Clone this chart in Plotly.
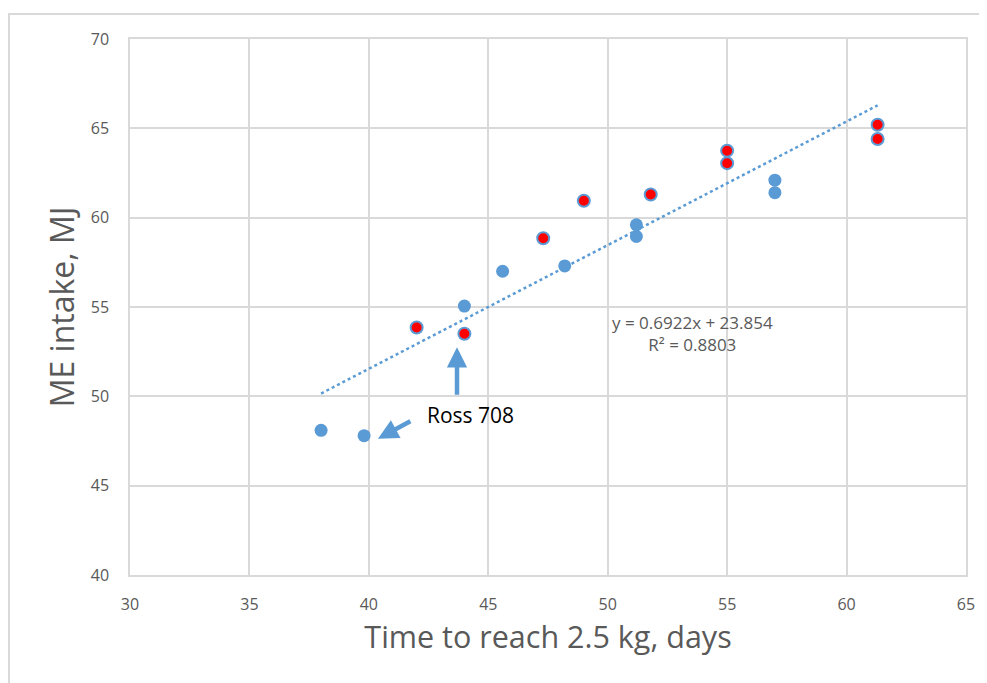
import plotly.graph_objects as go

# Blue points
blue_x = [38.0, 39.8, 44.0, 45.6, 48.2, 51.2, 51.2, 57.0, 57.0]
blue_y = [48.1, 47.8, 55.05, 57.0, 57.3, 59.6, 58.95, 62.1, 61.4]
# Red points (blue outline)
red_x = [42.0, 44.0, 47.3, 49.0, 51.8, 55.0, 55.0, 61.3, 61.3]
red_y = [53.85, 53.5, 58.85, 60.95, 61.3, 63.75, 63.05, 65.2, 64.4]

# Trendline: y = 0.6922x + 23.854
slope = 0.6922
intercept = 23.854
trend_x = [38.0, 61.3]
trend_y = [slope * v + intercept for v in trend_x]

x_ticks = [30, 35, 40, 45, 50, 55, 60, 65]
y_ticks = [40, 45, 50, 55, 60, 65, 70]

BLUE = "#5b9bd5"
GREY = "#595959"
GRID = "#d9d9d9"
FONT = "Open Sans"

fig = go.Figure()
fig.add_trace(go.Scatter(x=trend_x, y=trend_y, mode="lines",
                         line=dict(color=BLUE, width=2.5, dash="dot"),
                         hoverinfo="skip", showlegend=False))
fig.add_trace(go.Scatter(x=blue_x, y=blue_y, mode="markers",
                         marker=dict(color=BLUE, size=13, line=dict(width=0)),
                         showlegend=False))
fig.add_trace(go.Scatter(x=red_x, y=red_y, mode="markers",
                         marker=dict(color="#ff0000", size=12,
                                     line=dict(color=BLUE, width=2)),
                         showlegend=False))

# Equation text
fig.add_annotation(x=53.57, y=53.52, xref="x", yref="y",
                   text="y = 0.6922x + 23.854<br>R² = 0.8803",
                   showarrow=False, align="center",
                   font=dict(family=FONT, size=17, color=GREY))
# Ross 708 label
fig.add_annotation(x=42.35, y=48.95, xref="x", yref="y", text="Ross 708",
                   showarrow=False, xanchor="left", yanchor="middle",
                   font=dict(family=FONT, size=21, color="#000000"))
# Arrows
fig.add_annotation(x=40.38, y=47.62, ax=41.8, ay=48.65, xref="x", yref="y",
                   axref="x", ayref="y", text="", showarrow=True,
                   arrowhead=2, arrowsize=0.9, arrowwidth=4.5, arrowcolor=BLUE)
fig.add_annotation(x=43.69, y=52.75, ax=43.69, ay=50.0, xref="x", yref="y",
                   axref="x", ayref="y", text="", showarrow=True,
                   arrowhead=2, arrowsize=0.9, arrowwidth=4.5, arrowcolor=BLUE)

# Outer chart border (top and left visible)
fig.add_shape(type="rect", xref="paper", yref="paper",
              x0=-121/836, x1=1.1, y0=-0.3, y1=1 + 25/536,
              line=dict(color=GRID, width=2), layer="below")

fig.update_layout(
    width=979, height=675,
    margin=dict(l=122, r=21, t=31, b=108),
    paper_bgcolor="white", plot_bgcolor="white",
    font=dict(family=FONT, color=GREY),
    xaxis=dict(range=[30, 65], tickvals=x_ticks, showgrid=True, gridcolor=GRID,
               gridwidth=1.5, zeroline=False, showline=True, linecolor=GRID,
               linewidth=1.5, mirror=True, ticks="outside", ticklen=14,
               tickcolor="rgba(0,0,0,0)", tickfont=dict(size=16, color=GREY),
               title=dict(text="Time to reach 2.5 kg, days",
                          font=dict(size=30.5, color=GREY), standoff=12)),
    yaxis=dict(range=[40, 70], tickvals=y_ticks, showgrid=True, gridcolor=GRID,
               gridwidth=1.5, zeroline=False, showline=True, linecolor=GRID,
               linewidth=1.5, mirror=True, ticks="outside", ticklen=16,
               tickcolor="rgba(0,0,0,0)", tickfont=dict(size=16, color=GREY),
               title=dict(text="ME intake, MJ",
                          font=dict(size=32, color=GREY), standoff=7)),
)

fig.write_html("out.html")
